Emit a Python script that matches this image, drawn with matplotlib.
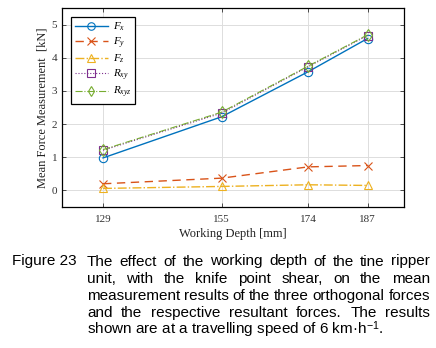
import numpy as np
import matplotlib
matplotlib.use("Agg")
import matplotlib.pyplot as plt

# working depth [mm] and mean forces [kN]
depth = [129, 155, 174, 187]
fx = [0.98, 2.22, 3.58, 4.58]
fy = [0.20, 0.37, 0.71, 0.75]
fz = [0.06, 0.12, 0.17, 0.15]
rxy = [1.21, 2.33, 3.73, 4.67]
rxyz = [1.23, 2.36, 3.75, 4.69]
labels = [r"$F_x$", r"$F_y$", r"$F_z$", r"$R_{xy}$", r"$R_{xyz}$"]

caption_head = "Figure 23"
caption_lines = [
    "The effect of the working depth of the tine ripper",
    "unit, with the knife point shear, on the mean",
    "measurement results of the three orthogonal forces",
    "and the respective resultant forces. The results",
]
caption_last = r"shown are at a travelling speed of 6 km·h$^{-1}$."

plt.rcParams["font.family"] = ["Liberation Serif", "DejaVu Serif"]
plt.rcParams["mathtext.fontset"] = "custom"
plt.rcParams["mathtext.it"] = "Liberation Serif:italic"
plt.rcParams["mathtext.rm"] = "Liberation Sans"

fig = plt.figure(figsize=(4.36, 3.48), dpi=100)
ax = fig.add_axes([62 / 436, 1 - 207 / 348, 342 / 436, 199 / 348])

styles = [
    dict(color="#0072BD", ls="-", marker="o", lw=1.0),
    dict(color="#D95319", ls=(0, (6, 4)), marker="x", lw=1.0),
    dict(color="#EDB120", ls="-.", marker="^", lw=1.0),
    dict(color="#7E2F8E", ls=":", marker="s", lw=0.8),
    dict(color="#77AC30", ls="-.", marker="d", lw=0.8),
]
for ys, lab, st in zip([fx, fy, fz, rxy, rxyz], labels, styles):
    ax.plot(depth, ys, label=lab, ms=6, mfc="none", mew=0.8, **st)

ax.set_xlim(120, 195)
ax.set_ylim(-0.5, 5.5)
ax.set_xticks(depth)
ax.set_yticks([0, 1, 2, 3, 4, 5])
ax.grid(True, color="#dddddd", lw=0.7)
ax.tick_params(direction="in", top=True, right=True, labelsize=8, length=3,
               width=0.6, colors="#333333", labelcolor="#333333")
ax.tick_params(axis="x", pad=6)
for sp in ax.spines.values():
    sp.set_linewidth(0.9)
ax.set_xlabel("Working Depth [mm]", fontsize=9, labelpad=3, color="#222222")
ax.set_ylabel("Mean Force Measurement  [kN]", fontsize=9, labelpad=2, color="#222222")

leg = ax.legend(loc="upper left", bbox_to_anchor=(0.026, 0.955), borderaxespad=0,
                fontsize=8, frameon=True, fancybox=False, edgecolor="black",
                handlelength=3.0, labelspacing=0.2, borderpad=0.35,
                handletextpad=0.4, framealpha=1, markerscale=0.9)
leg.get_frame().set_linewidth(0.9)

# caption with a hanging indent, justified
sans = ["Liberation Sans", "DejaVu Sans"]
cap_size = 11
x0, x1 = 87, 430
base0 = 265.5
step = 17.2
fig.text(12 / 436, 1 - base0 / 348, caption_head, family=sans, fontsize=cap_size,
         va="baseline", ha="left")

fig.canvas.draw()
renderer = fig.canvas.get_renderer()


def word_width(w):
    t = fig.text(0, 0, w, family=sans, fontsize=cap_size)
    bb = t.get_window_extent(renderer)
    t.remove()
    return bb.width


for i, line in enumerate(caption_lines):
    words = line.split(" ")
    widths = [word_width(w) for w in words]
    gap = (x1 - x0 - sum(widths)) / (len(words) - 1)
    x = x0
    y = 1 - (base0 + i * step) / 348
    for w, wd in zip(words, widths):
        fig.text(x / 436, y, w, family=sans, fontsize=cap_size, va="baseline", ha="left")
        x += wd + gap

fig.text(x0 / 436, 1 - (base0 + 4 * step) / 348, caption_last, family=sans,
         fontsize=cap_size, va="baseline", ha="left")

fig.savefig("out.png", dpi=100)
